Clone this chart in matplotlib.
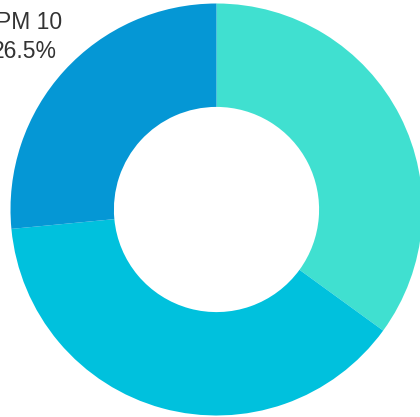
import matplotlib
matplotlib.use("Agg")
import matplotlib.pyplot as plt

# Data (clockwise from 12 o'clock)
categories = ["Series A", "Series B", "PM 10"]
values = [35.0, 38.5, 26.5]
colors = ["#40E0D0", "#00C1DD", "#0597D5"]
label_texts = ["", "", "26.5%"]

W, H = 420, 417
fig = plt.figure(figsize=(W / 100, H / 100), dpi=100)
ax = fig.add_axes([0, 0, 1, 1])

R_px = 206.0
cx, cy = 216.5, 209.5  # center in pixels from top-left

ax.pie(values, colors=colors, startangle=90, counterclock=False, radius=1.0,
       wedgeprops=dict(width=0.502, linewidth=0), frame=True)
ax.set_xlim(-cx / R_px, (W - cx) / R_px)
ax.set_ylim(-(H - cy) / R_px, cy / R_px)
ax.set_aspect("auto")
ax.axis("off")

# Label for PM 10 (visible one at upper-left)
def px2d(x, y):
    return (x - cx) / R_px, (cy - y) / R_px

x1, y1 = px2d(62, 22)
x2, y2 = px2d(57, 51)
ax.text(x1, y1, categories[2], ha="right", va="center", fontsize=16.5,
        color="#333333", family="Liberation Sans")
ax.text(x2, y2, label_texts[2], ha="right", va="center", fontsize=16.5,
        color="#333333", family="Liberation Sans")

fig.savefig("out.png", dpi=100)
